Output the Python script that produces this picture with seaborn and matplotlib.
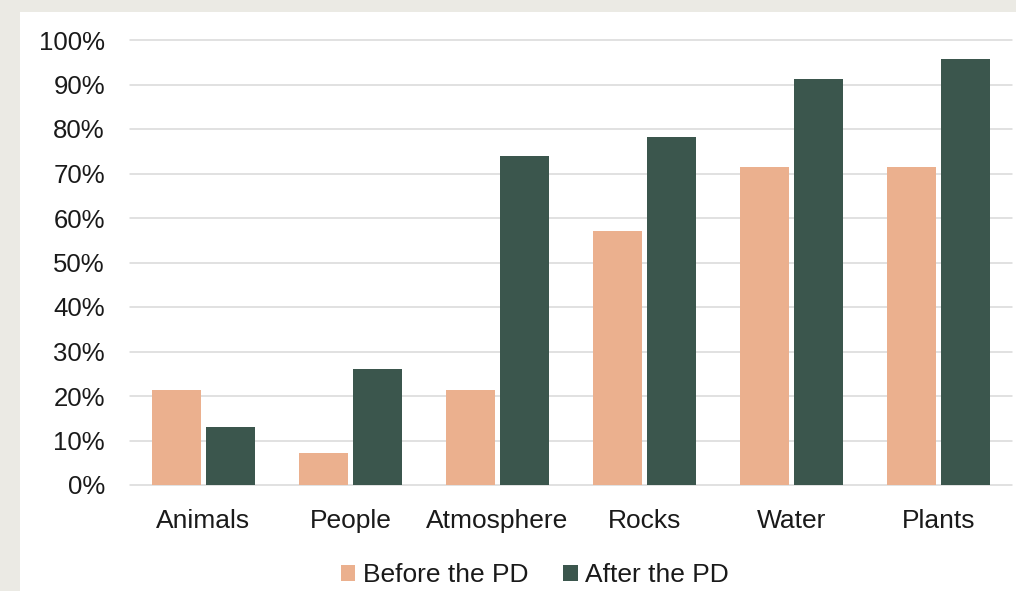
import pandas as pd
import matplotlib.pyplot as plt
import seaborn as sns
from matplotlib.patches import Rectangle
from matplotlib.ticker import PercentFormatter

sns.set_style("white")
plt.rcParams['font.family'] = ['Liberation Sans', 'DejaVu Sans']

# datos
categorias = ["Animals", "People", "Atmosphere", "Rocks", "Water", "Plants"]
antes = [0.214, 0.071, 0.214, 0.571, 0.714, 0.714]
despues = [0.130, 0.261, 0.739, 0.783, 0.913, 0.957]
series = ["Before the PD", "After the PD"]
colores = ["#ebb08e", "#3b564d"]

df = pd.DataFrame({
    "Categoria": categorias * 2,
    "Valor": antes + despues,
    "Serie": [series[0]] * len(categorias) + [series[1]] * len(categorias),
})

fig = plt.figure(figsize=(10.16, 5.91), dpi=100)
fig.patch.set_facecolor("#ebeae4")
# panel blanco detrás de los ejes
fig.patches.append(Rectangle((20 / 1016, 0), 1 - 20 / 1016, 1 - 12 / 591,
                             transform=fig.transFigure, facecolor="white",
                             edgecolor="none", zorder=-5))

ax = fig.add_axes([130 / 1016, 106 / 591, 882 / 1016, 445 / 591])
ax.set_facecolor("none")

sns.barplot(data=df, x="Categoria", y="Valor", hue="Serie", order=categorias,
            hue_order=series, palette=colores, width=0.735, gap=0.11,
            linewidth=0, saturation=1, ax=ax)

ax.set_ylim(0, 1.0)
ax.set_yticks([i / 10 for i in range(11)])
ax.yaxis.set_major_formatter(PercentFormatter(1.0, decimals=0))
ax.grid(axis="y", color="#d9d9d9", linewidth=1.1, clip_on=False)
ax.set_axisbelow(True)
for s in ax.spines.values():
    s.set_visible(False)
ax.set_xlabel("")
ax.set_ylabel("")
ax.tick_params(axis="y", length=0, pad=18, labelsize=18.5, labelcolor="#1a1a1a")
ax.tick_params(axis="x", length=0, pad=17, labelsize=19, labelcolor="#1a1a1a")

ax.legend(loc="center", bbox_to_anchor=(535 / 1016, 16 / 591),
          bbox_transform=fig.transFigure, ncol=2, frameon=False,
          fontsize=19, handlelength=0.55, handleheight=0.55,
          handletextpad=0.3, columnspacing=1.3, labelcolor="#1a1a1a")

plt.savefig("out.png", dpi=100, facecolor=fig.get_facecolor())
plt.close()
